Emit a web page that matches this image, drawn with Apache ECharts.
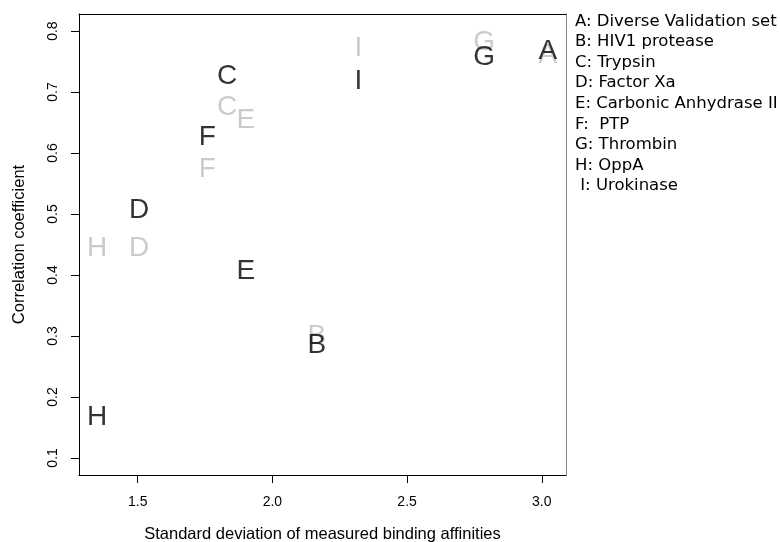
<!DOCTYPE html>
<html>
<head>
<meta charset="utf-8">
<script src="https://cdn.jsdelivr.net/npm/echarts@6/dist/echarts.min.js"></script>
<style>html,body{margin:0;padding:0;background:#fff}#c{width:780px;height:542px}</style>
</head>
<body>
<div id="c"></div>
<script>
// Data
const letters = ['A','B','C','D','E','F','G','H','I'];
const legendLabels = ['A: Diverse Validation set','B: HIV1 protease','C: Trypsin','D: Factor Xa','E: Carbonic Anhydrase II','F:  PTP','G: Thrombin','H: OppA',' I: Urokinase'];
const sdBinding = [3.023, 2.165, 1.832, 1.505, 1.901, 1.758, 2.786, 1.349, 2.319];
const corrBlack = [0.769, 0.288, 0.729, 0.509, 0.409, 0.628, 0.759, 0.169, 0.720];
const corrGrey  = [0.762, 0.302, 0.677, 0.446, 0.656, 0.576, 0.784, 0.446, 0.775];
const xTicks = [1.5, 2.0, 2.5, 3.0];
const yTicks = [0.1, 0.2, 0.3, 0.4, 0.5, 0.6, 0.7, 0.8];

const chart = echarts.init(document.getElementById('c'), null, {renderer:'canvas'});
function mk(ys){ return letters.map((l,i)=>[sdBinding[i], ys[i], l]); }
function letterSeries(ys, color){
  return {
    type:'scatter', data: mk(ys), symbol:'circle', symbolSize:1,
    itemStyle:{color:'rgba(0,0,0,0)'}, silent:true,
    label:{show:true, position:'inside', offset:[0,1.5], formatter:p=>p.data[2], color:color,
      fontFamily:'Liberation Sans', fontSize:28}
  };
}
const labelFont = {fontFamily:'Liberation Sans', fontSize:14, color:'#000'};
const nameFont = {fontFamily:'Liberation Sans', fontSize:16.5, color:'#000'};
chart.setOption({
  animation:false,
  title:{text:legendLabels.join('\n'), left:575, top:11, padding:0,
    textStyle:{fontFamily:'DejaVu Sans', fontSize:16.5, fontWeight:'normal', color:'#000', lineHeight:20.6}},
  grid:{left:79, top:14, width:487, height:461, show:false, containLabel:false, outerBoundsMode:'none'},
  xAxis:[{type:'value', position:'bottom', min:1.282, max:3.090,
    name:'Standard deviation of measured binding affinities', nameLocation:'middle', nameGap:51,
    nameTextStyle:nameFont,
    axisLine:{show:true, onZero:false, lineStyle:{color:'#000', width:1}},
    axisTick:{show:true, length:8, customValues:xTicks, lineStyle:{color:'#000'}},
    axisLabel:{...labelFont, customValues:xTicks, margin:20, formatter:v=>v.toFixed(1)},
    splitLine:{show:false}},
   {type:'value', position:'top', min:1.282, max:3.090,
    axisLine:{show:true, onZero:false, lineStyle:{color:'#000', width:1}},
    axisTick:{show:false}, axisLabel:{show:false}, splitLine:{show:false}}],
  yAxis:[{type:'value', position:'left', min:0.072, max:0.828,
    name:'Correlation coefficient', nameLocation:'middle', nameGap:51,
    nameTextStyle:nameFont,
    axisLine:{show:true, onZero:false, lineStyle:{color:'#000', width:1}},
    axisTick:{show:true, length:8, customValues:yTicks, lineStyle:{color:'#000'}},
    axisLabel:{...labelFont, customValues:yTicks, margin:19, rotate:90, formatter:v=>v.toFixed(1)},
    splitLine:{show:false}},
   {type:'value', position:'right', min:0.072, max:0.828,
    axisLine:{show:true, onZero:false, lineStyle:{color:'#888', width:1}},
    axisTick:{show:false}, axisLabel:{show:false}, splitLine:{show:false}}],
  series:[letterSeries(corrGrey, '#bebebe'), letterSeries(corrBlack, '#000')]
});
</script>
</body>
</html>
